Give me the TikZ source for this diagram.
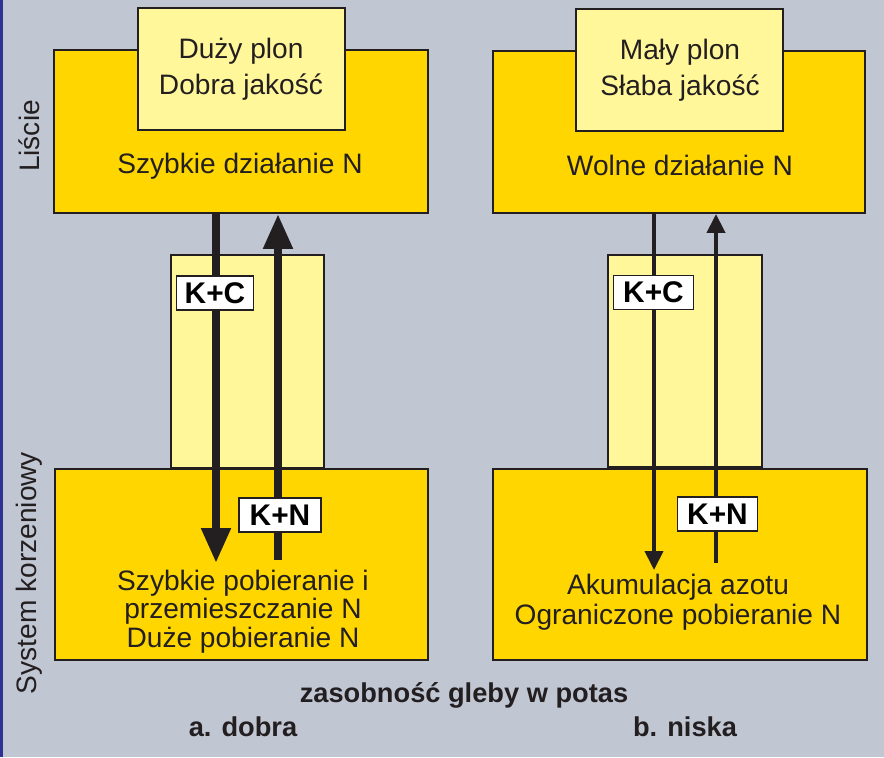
\documentclass[tikz,border=0pt]{standalone}
\usepackage{fontspec}
\setmainfont{Liberation Sans}
\usepackage{xcolor}
\usepackage{tikz}
\usetikzlibrary{arrows.meta}
\usetikzlibrary{fit}
\definecolor{panelbg}{HTML}{C1C6D3}
\definecolor{gold}{HTML}{FFD600}
\definecolor{pale}{HTML}{FFF799}
\definecolor{ink}{HTML}{231F20}
\definecolor{edgeblue}{HTML}{2E3192}
\tikzset{>=stealth}
\tikzset{
  box/.style={draw=ink, line width=1.1pt, inner sep=0pt},
  goldbox/.style={box, fill=gold},
  palebox/.style={box, fill=pale},
  kbox/.style={draw=ink, fill=white, line width=1.1pt, inner sep=0pt,
    minimum width=1.6cm, minimum height=0.68cm,
    font=\fontsize{17}{17}\selectfont\bfseries},
  txt/.style={anchor=base, inner sep=0pt, text=ink, align=center,
    font=\fontsize{16}{16.2}\selectfont},
  boldtxt/.style={anchor=base, inner sep=0pt, text=ink,
    font=\fontsize{15.5}{15.5}\selectfont\bfseries},
  fatarrow/.style={draw=ink, line width=0.16cm, -{Triangle[width=0.56cm,length=0.7cm]}},
  thinarrow/.style={draw=ink, line width=0.08cm, -{Triangle[width=0.36cm,length=0.38cm]}},
}

\begin{document}
\begin{tikzpicture}[x=0.02cm,y=-0.02cm]
      \fill[panelbg] (0,0) rectangle (884,757);
      \useasboundingbox (0,0) rectangle (884,757);
      \draw[edgeblue, line width=0.06cm] (1.5,0) -- (1.5,757);
      % a. dobra
      \node[goldbox, fit={(54,50) (428,213)}] (aLeaf) {};
      \node[palebox, fit={(138,8) (345,130)}] (aYield) {};
      \node[palebox, fit={(171,255) (324,468)}] (aStem) {};
      \node[goldbox, fit={(55,469) (428,660)}] (aRoot) {};
      \node[txt] (aYieldText) at (241,94) {Duży plon\\[4.2pt]Dobra jakość};
      \node[txt] (aLeafText) at (240,173) {Szybkie działanie N};
      \node[txt] (aRootText) at (243,647) {Szybkie pobieranie i\\przemieszczanie N\\Duże pobieranie N};
      \coordinate (aDown) at (216,563);
      \coordinate (aUp) at (278,560);
      \draw[fatarrow] (aLeaf.south -| aDown) -- (aDown);
      \draw[fatarrow] (aUp) -- (aUp |- aLeaf.south);
      \node[kbox, minimum width=1.54cm] (aKC) at (215,293) {K+C};
      \node[kbox, minimum width=1.64cm] (aKN) at (280,515) {K+N};
      % b. niska
      \node[goldbox, fit={(493,51) (865,213)}] (bLeaf) {};
      \node[palebox, fit={(576,9) (783,131)}] (bYield) {};
      \node[palebox, fit={(608,255) (762,467)}] (bStem) {};
      \node[goldbox, fit={(493,469) (867,660)}] (bRoot) {};
      \node[txt] (bYieldText) at (680,95) {Mały plon\\[4.2pt]Słaba jakość};
      \node[txt] (bLeafText) at (680,175) {Wolne działanie N};
      \node[txt] (bRootText) at (678,624) {Akumulacja azotu\\[0.8pt]Ograniczone pobieranie N};
      \coordinate (bDown) at (654,570);
      \coordinate (bUp) at (716,563);
      \draw[thinarrow] (bLeaf.south -| bDown) -- (bDown);
      \draw[thinarrow] (bUp) -- (bUp |- bLeaf.south);
      \node[kbox] (bKC) at (653.5,292.5) {K+C};
      \node[kbox] (bKN) at (717.5,514) {K+N};
      % side and bottom labels
      \node[txt, rotate=90, anchor=center] (leafLabel) at (29,136) {Liście};
      \node[txt, rotate=90, anchor=center] (rootLabel) at (29,573) {System korzeniowy};
      \node[boldtxt] (soilLabel) at (464,702) {zasobność gleby w potas};
      \node[boldtxt] (goodLabel) at (243,736) {a. dobra};
      \node[boldtxt] (lowLabel) at (685,736) {b. niska};
    \end{tikzpicture}
\end{document}
